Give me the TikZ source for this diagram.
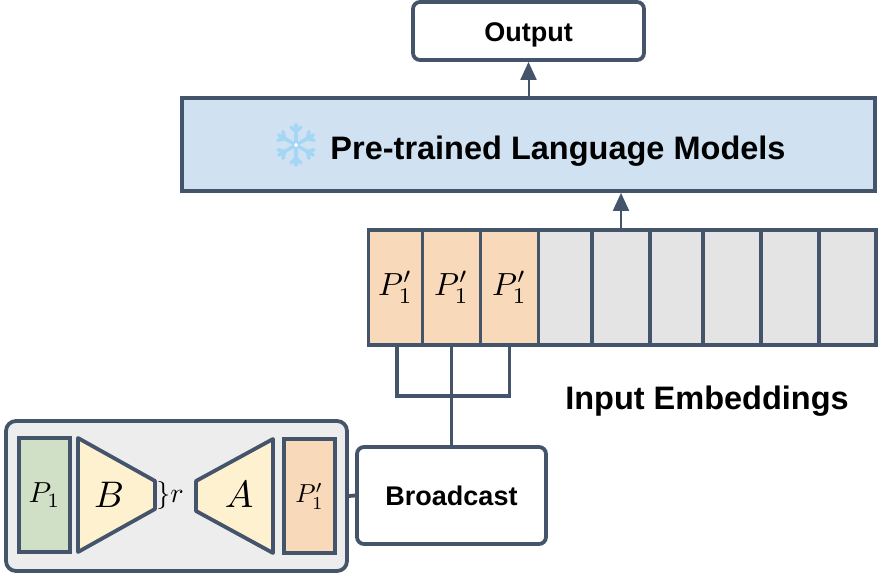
\documentclass[tikz,border=0pt]{standalone}
\usepackage{fontspec}
\setmainfont{Liberation Sans}
\usetikzlibrary{arrows.meta}
\definecolor{slateline}{HTML}{44546A}
\definecolor{peach}{HTML}{F8D9B9}
\definecolor{cellgray}{HTML}{E4E4E4}
\definecolor{panelgray}{HTML}{EDEDED}
\definecolor{sage}{HTML}{D0E0C6}
\definecolor{cream}{HTML}{FEF1D0}
\definecolor{icyblue}{HTML}{D0E2F2}
\definecolor{flake}{HTML}{A6D6F6}
\newcommand{\bigmath}[2]{\scalebox{#1}{$#2$}}
\tikzset{
	box/.style={rectangle,draw=slateline,line width=3.8pt,inner sep=0pt},
	softbox/.style={box,rounded corners=7pt},
	cell/.style={box,minimum height=115pt},
	wire/.style={draw=slateline,line width=3.8pt},
	uparrow/.style={draw=slateline,line width=2pt,-{Triangle[length=18pt,width=16pt]}},
	title/.style={font=\bfseries\fontsize{27}{30}\selectfont},
	bigtitle/.style={font=\bfseries\fontsize{32.5}{36}\selectfont}
}
\begin{document}
\begin{tikzpicture}[x=1pt,y=-1pt]
	\useasboundingbox (0,0) rectangle (882,577);
	\node [softbox,fill=white,minimum width=231pt,minimum height=58pt] (output) at(528.5,31) {};
	\node [title] (outputtext) at(528.5,34.5) {Output};
	\node [box,fill=icyblue,minimum width=693pt,minimum height=93pt] (models) at(528.5,144.5) {};
	\node [bigtitle] (modelstext) at(558,151.5) {Pre-trained Language Models};
%	snowflake
	\foreach \a in {30,90,...,330} {
		\draw [flake,line width=3.5pt,line cap=round] (296,145) -- ++(\a:20pt);
		\draw [flake,line width=3.5pt,line cap=round] (296,145) ++(\a:13pt) -- ++(\a+45:7pt);
		\draw [flake,line width=3.5pt,line cap=round] (296,145) ++(\a:13pt) -- ++(\a-45:7pt);
	}
	\node [circle,draw=flake,fill=white,line width=2pt,minimum size=6pt,inner sep=0pt] (hub) at(296,145) {};
%	embeddings
	\node [cell,fill=peach,minimum width=54pt] (emba) at(395.5,287.5) {\bigmath{3.2}{P_1'}};
	\node [cell,fill=peach,minimum width=58pt] (embb) at(451.5,287.5) {\bigmath{3.2}{P_1'}};
	\node [cell,fill=peach,minimum width=58pt] (embc) at(509.5,287.5) {\bigmath{3.2}{P_1'}};
	\node [cell,fill=cellgray,minimum width=54pt] (embd) at(565.5,287.5) {};
	\node [cell,fill=cellgray,minimum width=58pt] (embe) at(621,287.5) {};
	\node [cell,fill=cellgray,minimum width=53pt] (embf) at(676.5,287.5) {};
	\node [cell,fill=cellgray,minimum width=58pt] (embg) at(732,287.5) {};
	\node [cell,fill=cellgray,minimum width=58pt] (embh) at(790,287.5) {};
	\node [cell,fill=cellgray,minimum width=57pt] (embi) at(847.5,287.5) {};
	\node [bigtitle] (inputtext) at(707,401.5) {Input Embeddings};
%	encoder panel
	\node [softbox,fill=panelgray,minimum width=341pt,minimum height=150pt,rounded corners=10pt] (panel) at(176.5,496) {};
	\node [box,fill=sage,minimum width=51pt,minimum height=114pt] (porig) at(44.5,495) {\bigmath{2.9}{P_1}};
	\node [box,fill=peach,minimum width=51pt,minimum height=114pt] (pnew) at(309.5,496) {\bigmath{2.6}{P_1'}};
	\draw [wire,fill=cream,line join=round] (78,438) -- (155,481) -- (155,509) -- (78,552) -- cycle;
	\draw [wire,fill=cream,line join=round] (273,439) -- (196,481) -- (196,511) -- (273,553) -- cycle;
	\node [] (bmark) at(109,495) {\bigmath{3.7}{B}};
	\node [] (amark) at(239,495) {\bigmath{3.8}{A}};
	\node [] (rmark) at(170,495) {\bigmath{2.8}{\}r}};
	\node [softbox,fill=white,minimum width=189pt,minimum height=97pt,title] (broadcast) at(451.5,495.5) {Broadcast};
%	connectors
	\coordinate (join) at(451.5,396);
	\draw [wire] ([xshift=1.5pt]emba.south) |- (join) -| (embc.south);
	\draw [wire] (embb.south) -- (broadcast.north);
	\draw [wire] (panel.east) -- (broadcast.west);
	\draw [uparrow] (embe.north) -- (embe.north |- models.south);
	\draw [uparrow] (models.north) -- (output.south);
\end{tikzpicture}
\end{document}
